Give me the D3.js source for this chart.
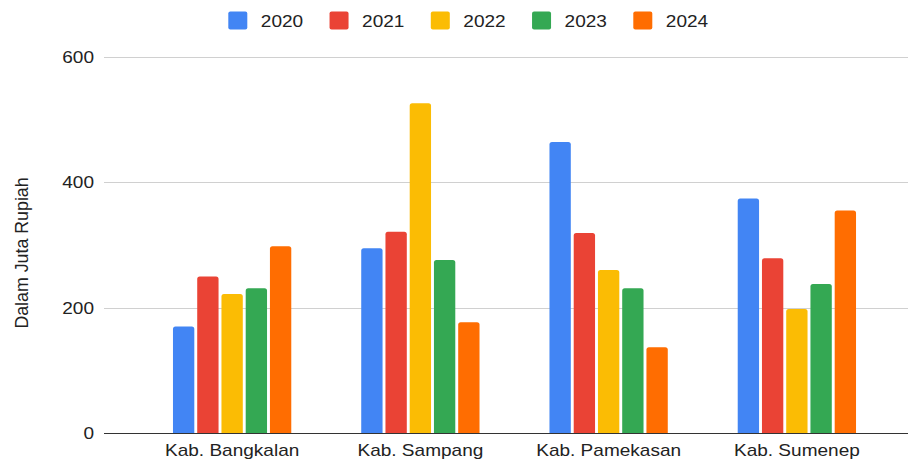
<!DOCTYPE html>
<html>
  <head>
    <script src="https://d3js.org/d3.v7.min.js"></script>
    <style>
      body { margin: 0; background: #fff; }
      text { font-family: Arial, "Liberation Sans", sans-serif; fill: #222; }
    </style>
  </head>
  <body>
    <div id="chart"></div>
    <script>
      // data
      var categories = ["Kab. Bangkalan", "Kab. Sampang", "Kab. Pamekasan", "Kab. Sumenep"];
      var years = ["2020", "2021", "2022", "2023", "2024"];
      var v2020 = [170, 295, 464, 374];
      var v2021 = [250, 321, 319, 279];
      var v2022 = [222, 526, 260, 198];
      var v2023 = [231, 276, 231, 238];
      var v2024 = [298, 177, 137, 355];
      var yTicks = [0, 200, 400, 600];
      var colors = ["#4285F4", "#EA4335", "#FBBC04", "#34A853", "#FF6D01"];

      var series = [v2020, v2021, v2022, v2023, v2024];

      var width = 910, height = 462;
      var sx = 1.12; // text in the reference is a bit wide

      var svg = d3.select("#chart").append("svg")
        .attr("width", width)
        .attr("height", height);

      var y = d3.scaleLinear().domain([0, 600]).range([433.3, 56.7]);
      var x0 = d3.scaleBand().domain(categories).range([138, 891]);
      var groupW = 118.3;
      var x1 = d3.scaleBand().domain(years).range([0, groupW]).paddingInner(0.12);

      // gridlines
      svg.append("g").selectAll("line")
        .data(yTicks.filter(function (d) { return d > 0; }))
        .enter().append("line")
        .attr("x1", 104).attr("x2", 908)
        .attr("y1", function (d) { return Math.round(y(d)) + 0.5; })
        .attr("y2", function (d) { return Math.round(y(d)) + 0.5; })
        .attr("stroke", "#d0d0d0");

      // tick labels
      svg.append("g").selectAll("text")
        .data(yTicks)
        .enter().append("text")
        .attr("transform", function (d) { return "translate(94," + (y(d) + 6) + ") scale(" + sx + ",1)"; })
        .attr("text-anchor", "end")
        .style("font-size", "17px")
        .text(function (d) { return d; });

      // bars with rounded tops
      function barPath(x, yTop, w, yBase) {
        var r = Math.min(2.5, (yBase - yTop) / 2);
        return "M" + x + "," + yBase +
          "V" + (yTop + r) +
          "Q" + x + "," + yTop + " " + (x + r) + "," + yTop +
          "H" + (x + w - r) +
          "Q" + (x + w) + "," + yTop + " " + (x + w) + "," + (yTop + r) +
          "V" + yBase + "Z";
      }

      var bars = [];
      series.forEach(function (vals, si) {
        vals.forEach(function (v, ci) {
          bars.push({ cat: categories[ci], year: years[si], value: v, color: colors[si] });
        });
      });

      svg.append("g").selectAll("path")
        .data(bars)
        .enter().append("path")
        .attr("d", function (d) {
          var gx = x0(d.cat) + x0.bandwidth() / 2 - groupW / 2;
          return barPath(gx + x1(d.year), y(d.value), x1.bandwidth(), y(0));
        })
        .attr("fill", function (d) { return d.color; });

      // baseline
      svg.append("line")
        .attr("x1", 104).attr("x2", 908)
        .attr("y1", 433.5).attr("y2", 433.5)
        .attr("stroke", "#333")
        .attr("stroke-width", 1.2);

      // category labels
      svg.append("g").selectAll("text")
        .data(categories)
        .enter().append("text")
        .attr("transform", function (d) { return "translate(" + (x0(d) + x0.bandwidth() / 2) + ",456) scale(" + sx + ",1)"; })
        .attr("text-anchor", "middle")
        .style("font-size", "17px")
        .text(function (d) { return d; });

      // y axis title
      svg.append("text")
        .attr("transform", "translate(28,253) rotate(-90)")
        .attr("text-anchor", "middle")
        .style("font-size", "17.8px")
        .text("Dalam Juta Rupiah");

      // legend
      var legend = svg.append("g").selectAll("g")
        .data(years)
        .enter().append("g")
        .attr("transform", function (d, i) { return "translate(" + (228.3 + i * 101.25) + ",0)"; });

      legend.append("rect")
        .attr("x", 0).attr("y", 11.5)
        .attr("width", 19).attr("height", 18)
        .attr("rx", 2)
        .attr("fill", function (d, i) { return colors[i]; });

      legend.append("text")
        .attr("transform", "translate(32.5,26.7) scale(" + sx + ",1)")
        .style("font-size", "17px")
        .text(function (d) { return d; });
    </script>
  </body>
</html>
